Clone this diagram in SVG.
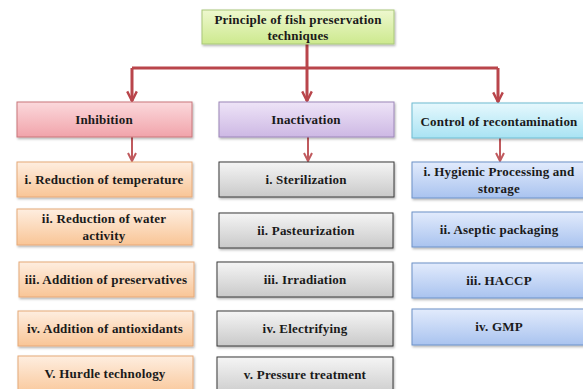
<svg xmlns="http://www.w3.org/2000/svg" width="583" height="389" viewBox="0 0 583 389">
<defs>
<linearGradient id="gGreen" x1="0" y1="0" x2="0" y2="1"><stop offset="0" stop-color="#eef8cf"/><stop offset="1" stop-color="#cde98e"/></linearGradient>
<linearGradient id="gPink" x1="0" y1="0" x2="0" y2="1"><stop offset="0" stop-color="#fbd9dc"/><stop offset="1" stop-color="#f1a3aa"/></linearGradient>
<linearGradient id="gLav" x1="0" y1="0" x2="0" y2="1"><stop offset="0" stop-color="#eee4f7"/><stop offset="1" stop-color="#cdb8e4"/></linearGradient>
<linearGradient id="gCyan" x1="0" y1="0" x2="0" y2="1"><stop offset="0" stop-color="#e6f8fd"/><stop offset="1" stop-color="#a9e3f3"/></linearGradient>
<linearGradient id="gOrange" x1="0" y1="0" x2="0" y2="1"><stop offset="0" stop-color="#feeee0"/><stop offset="1" stop-color="#f9c596"/></linearGradient>
<linearGradient id="gGray" x1="0" y1="0" x2="0" y2="1"><stop offset="0" stop-color="#f5f5f5"/><stop offset="1" stop-color="#c9c9c9"/></linearGradient>
<linearGradient id="gBlue" x1="0" y1="0" x2="0" y2="1"><stop offset="0" stop-color="#e2ebfc"/><stop offset="1" stop-color="#a9c3ef"/></linearGradient>
<filter id="sh" x="-5%" y="-10%" width="115%" height="140%"><feDropShadow dx="1" dy="1.5" stdDeviation="1" flood-color="#000" flood-opacity="0.3"/></filter>
<marker id="arr" viewBox="0 0 10 10" refX="9" refY="5" markerWidth="4" markerHeight="4" orient="auto" markerUnits="strokeWidth"><path d="M1,1 L9,5 L1,9" fill="none" stroke="#b9454b" stroke-width="2"/></marker>
<marker id="arr2" viewBox="0 0 10 10" refX="9" refY="5" markerWidth="5" markerHeight="5" orient="auto" markerUnits="strokeWidth"><path d="M1,1 L9,5 L1,9" fill="none" stroke="#c05a5e" stroke-width="2"/></marker>
</defs>
<style>
text{font-family:"Liberation Serif","Times New Roman",serif;font-weight:bold;font-size:13px;letter-spacing:0.2px;fill:#1a1a1a;text-anchor:middle}
.box{stroke-width:1;filter:url(#sh)}
.green{fill:url(#gGreen);stroke:#a9c77a}
.pink{fill:url(#gPink);stroke:#c9767b}
.lav{fill:url(#gLav);stroke:#9c86b8}
.cyan{fill:url(#gCyan);stroke:#6fbcd2}
.orange{fill:url(#gOrange);stroke:#e6a978}
.gray{fill:url(#gGray);stroke:#3a3a3a}
.blue{fill:url(#gBlue);stroke:#6d92c8}
.main{fill:none;stroke:#b9454b;stroke-width:3}
.sub{fill:none;stroke:#c05a5e;stroke-width:2}
</style>
<g id="connectors">
<path class="main" d="M307,44 V68"/>
<path class="main" d="M132,68 H498"/>
<path class="main" d="M132,68 V101" marker-end="url(#arr)"/>
<path class="main" d="M307,68 V101" marker-end="url(#arr)"/>
<path class="main" d="M498,68 V102" marker-end="url(#arr)"/>
<path class="sub" d="M132,137 V161" marker-end="url(#arr2)"/>
<path class="sub" d="M308,137 V161" marker-end="url(#arr2)"/>
<path class="sub" d="M500,138 V161" marker-end="url(#arr2)"/>
</g>
<g id="root"><rect class="box green" x="202" y="10" width="192" height="34"/><text x="298" y="24">Principle of fish preservation</text><text x="298" y="40">techniques</text></g>
<g id="inhibition"><rect class="box pink" x="17" y="102" width="175" height="35"/><text x="104" y="124">Inhibition</text></g>
<g id="inactivation"><rect class="box lav" x="219" y="102" width="175" height="35"/><text x="306" y="124">Inactivation</text></g>
<g id="control"><rect class="box cyan" x="412" y="103" width="172" height="35"/><text x="499" y="126">Control of recontamination</text></g>
<g id="inh1"><rect class="box orange" x="17" y="162" width="175" height="35"/><text x="104" y="184">i. Reduction of temperature</text></g>
<g id="inh2"><rect class="box orange" x="17" y="209" width="175" height="36"/><text x="104" y="223">ii. Reduction of water</text><text x="104" y="240">activity</text></g>
<g id="inh3"><rect class="box orange" x="19" y="262" width="175" height="35"/><text x="106" y="284">iii. Addition of preservatives</text></g>
<g id="inh4"><rect class="box orange" x="18" y="311" width="175" height="35"/><text x="105" y="333">iv. Addition of antioxidants</text></g>
<g id="inh5"><rect class="box orange" x="18" y="356" width="175" height="40"/><text x="105" y="378">V. Hurdle technology</text></g>
<g id="ina1"><rect class="box gray" x="219" y="162" width="175" height="35"/><text x="306" y="184">i. Sterilization</text></g>
<g id="ina2"><rect class="box gray" x="219" y="213" width="174" height="35"/><text x="306" y="235">ii. Pasteurization</text></g>
<g id="ina3"><rect class="box gray" x="217" y="262" width="176" height="35"/><text x="305" y="284">iii. Irradiation</text></g>
<g id="ina4"><rect class="box gray" x="217" y="311" width="176" height="35"/><text x="305" y="333">iv. Electrifying</text></g>
<g id="ina5"><rect class="box gray" x="217" y="357" width="176" height="40"/><text x="305" y="379">v. Pressure treatment</text></g>
<g id="ctl1"><rect class="box blue" x="412" y="162" width="172" height="36"/><text x="499" y="176">i. Hygienic Processing and</text><text x="499" y="193">storage</text></g>
<g id="ctl2"><rect class="box blue" x="412" y="212" width="172" height="35"/><text x="499" y="234">ii. Aseptic packaging</text></g>
<g id="ctl3"><rect class="box blue" x="412" y="263" width="172" height="35"/><text x="499" y="285">iii. HACCP</text></g>
<g id="ctl4"><rect class="box blue" x="412" y="309" width="172" height="36"/><text x="499" y="331">iv. GMP</text></g>
</svg>
